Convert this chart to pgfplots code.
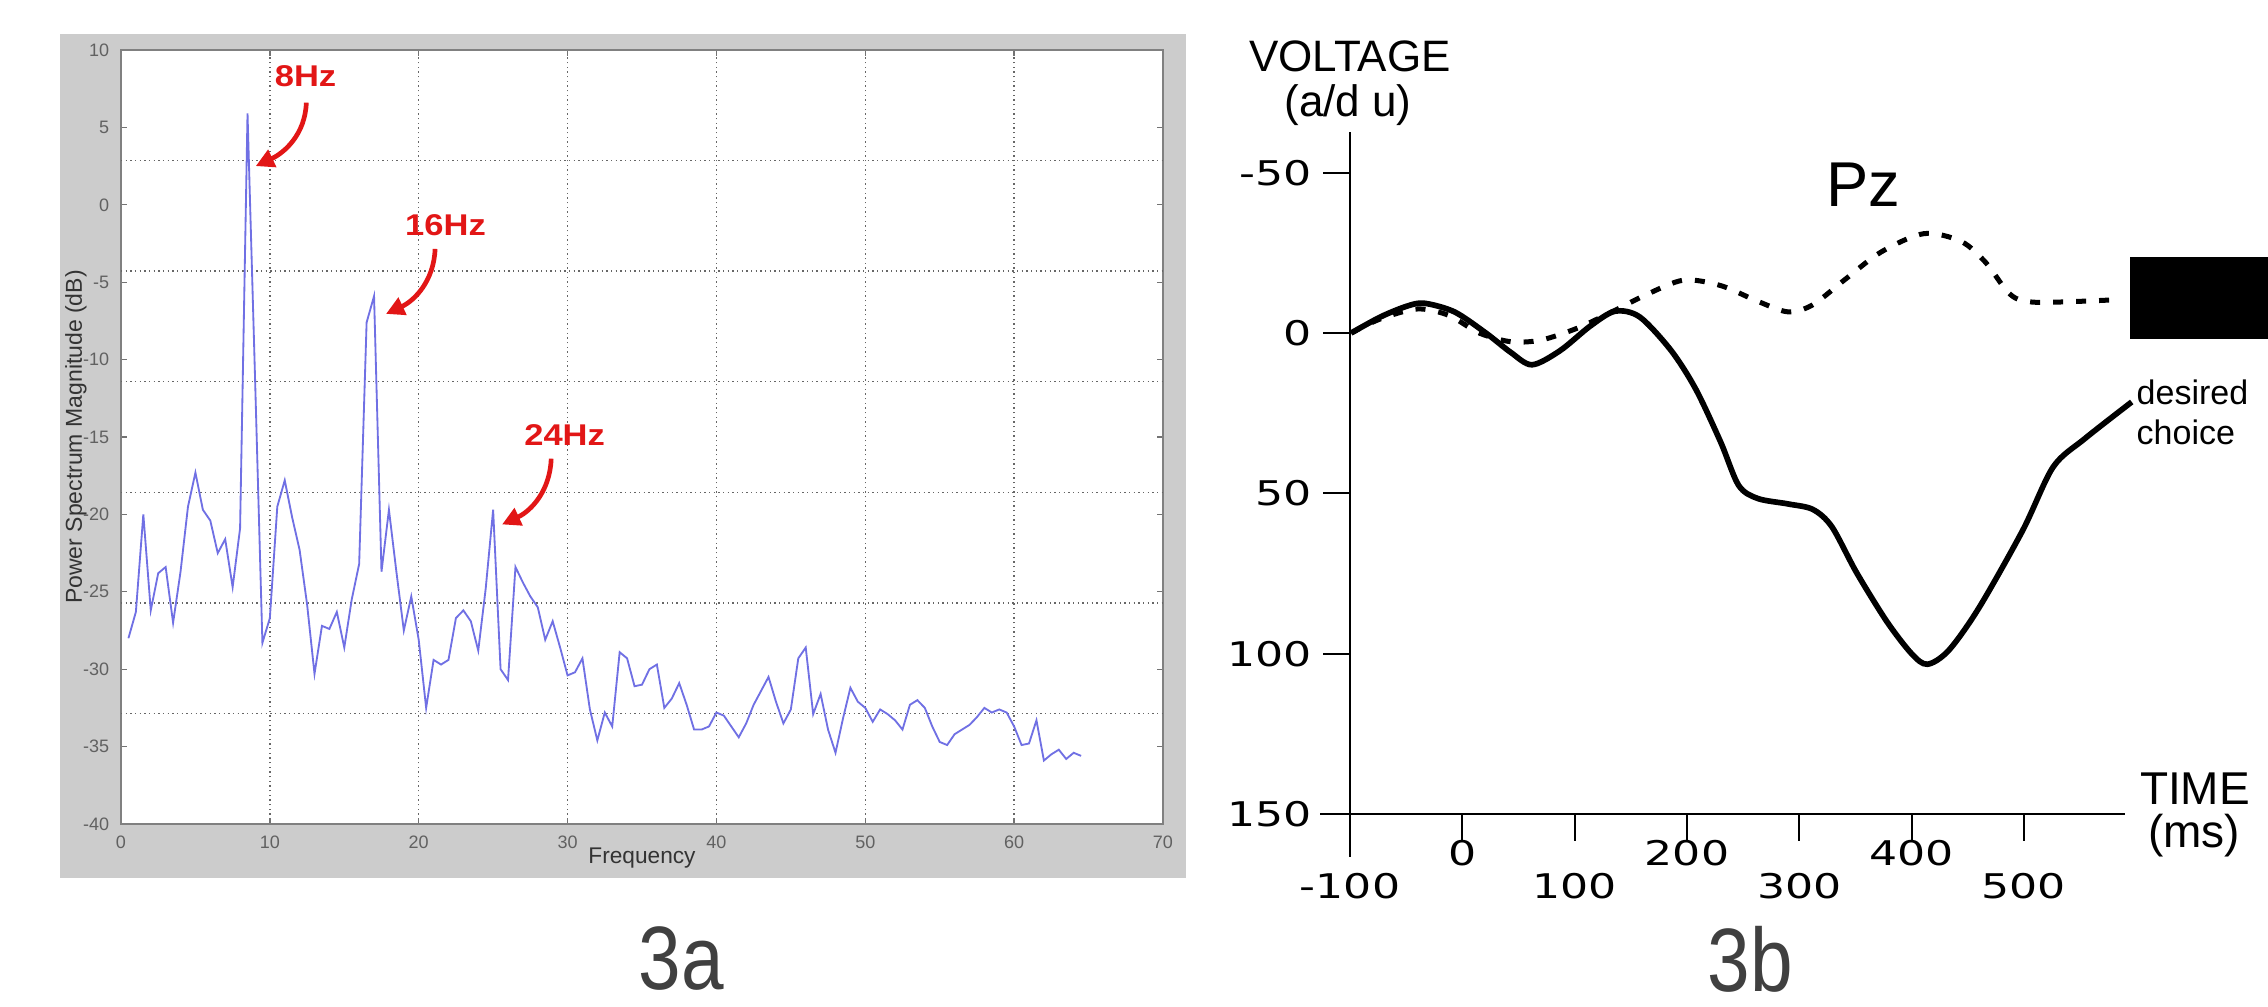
\documentclass[border=0pt]{standalone}
\usepackage{fontspec}
\usepackage{graphicx}
\usepackage{pgfplots}
\pgfplotsset{compat=1.18}
\usetikzlibrary{arrows.meta}
\setmainfont{Liberation Sans}
\newfontfamily\ls{Liberation Sans}
\newfontfamily\dv{DejaVu Sans}
\definecolor{panel}{RGB}{204,204,204}
\definecolor{spec}{RGB}{112,112,228}
\definecolor{annot}{RGB}{226,22,22}
\definecolor{capgrey}{RGB}{64,64,64}
\newcommand\W[1]{\scalebox{1.3}[1]{#1}}
\newcommand\Lo[1]{\rule{0pt}{17.3pt}\W{#1}}
\newcommand\RH[1]{\scalebox{1.15}[1]{#1}}

\pgfplotstableread{
f p
0.5 -28.0
1.0 -26.3
1.5 -20.0
2.0 -26.2
2.5 -23.8
3.0 -23.4
3.5 -27.0
4.0 -23.7
4.5 -19.5
5.0 -17.3
5.5 -19.7
6.0 -20.4
6.5 -22.5
7.0 -21.6
7.5 -24.7
8.0 -20.9
8.5 5.9
9.0 -11.0
9.5 -28.3
10.0 -26.7
10.5 -19.5
11.0 -17.8
11.5 -20.2
12.0 -22.3
12.5 -25.8
13.0 -30.3
13.5 -27.2
14.0 -27.4
14.5 -26.3
15.0 -28.6
15.5 -25.5
16.0 -23.2
16.5 -7.6
17.0 -5.9
17.5 -23.7
18.0 -19.7
18.5 -23.7
19.0 -27.5
19.5 -25.3
20.0 -28.1
20.5 -32.5
21.0 -29.4
21.5 -29.7
22.0 -29.4
22.5 -26.7
23.0 -26.2
23.5 -26.9
24.0 -28.8
24.5 -24.8
25.0 -19.7
25.5 -30.0
26.0 -30.7
26.5 -23.4
27.0 -24.4
27.5 -25.3
28.0 -26.0
28.5 -28.1
29.0 -26.9
29.5 -28.6
30.0 -30.4
30.5 -30.2
31.0 -29.3
31.5 -32.6
32.0 -34.6
32.5 -32.8
33.0 -33.7
33.5 -28.9
34.0 -29.3
34.5 -31.1
35.0 -31.0
35.5 -30.0
36.0 -29.7
36.5 -32.5
37.0 -31.9
37.5 -30.9
38.0 -32.3
38.5 -33.9
39.0 -33.9
39.5 -33.7
40.0 -32.8
40.5 -33.0
41.0 -33.7
41.5 -34.4
42.0 -33.5
42.5 -32.3
43.0 -31.4
43.5 -30.5
44.0 -32.1
44.5 -33.5
45.0 -32.6
45.5 -29.3
46.0 -28.6
46.5 -32.9
47.0 -31.6
47.5 -33.9
48.0 -35.4
48.5 -33.2
49.0 -31.2
49.5 -32.1
50.0 -32.5
50.5 -33.4
51.0 -32.6
51.5 -32.9
52.0 -33.3
52.5 -33.9
53.0 -32.3
53.5 -32.0
54.0 -32.5
54.5 -33.7
55.0 -34.7
55.5 -34.9
56.0 -34.2
56.5 -33.9
57.0 -33.6
57.5 -33.1
58.0 -32.5
58.5 -32.8
59.0 -32.6
59.5 -32.8
60.0 -33.7
60.5 -34.9
61.0 -34.8
61.5 -33.3
62.0 -35.9
62.5 -35.5
63.0 -35.2
63.5 -35.8
64.0 -35.4
64.5 -35.6
}\spectrum

\pgfplotstableread{
t v
-99 0
-73 -5
-50 -8.3
-34 -9.3
-7 -6.6
21 0
43 6
62 9.9
87 5.5
114 -2.2
136 -6.8
158 -5
186 5.5
208 17.6
230 34
246 47.5
263 51.6
290 53.3
312 55
329 60.4
351 74.7
378 90
400 100
414 103.3
433 99
460 85.7
499 61.5
526 41.8
554 33
596 21.5
}\desired

\pgfplotstableread{
t v
-99 0
-73 -4.4
-40 -7.5
-12 -5.5
15 0
43 2.7
70 2.2
103 -1.6
136 -7.1
164 -12
197 -16.5
230 -14.8
263 -9.9
290 -6.6
312 -8.8
340 -16.5
373 -25.3
411 -31
444 -28.6
466 -22
488 -12
510 -9.6
577 -10.3
}\other

\begin{document}
\begin{tikzpicture}[x=0.3pt,y=0.3pt]
\fill[white] (0,0) rectangle (2268,1007);
\useasboundingbox (0,0) rectangle (2268,1007);
\fill[panel] (60,129) rectangle (1186,973);

% ---------------- 3a ----------------
\begin{axis}[
  at={(36.3pt,54.9pt)}, anchor=south west,
  scale only axis, width=312.6pt, height=232.2pt,
  xmin=0, xmax=70, ymin=-40, ymax=10,
  xtick={0,10,...,70},
  xticklabels={0,10,20,30,40,50,60,70},
  ytick={-40,-35,...,10},
  yticklabels={-40,-35,-30,-25,-20,-15,-10,-5,0,5,10},
  tick align=inside, major tick length=1.8pt,
  tick style={black!55, line width=0.4pt},
  axis line style={black!50, line width=0.7pt},
  axis background/.style={fill=white},
  xmajorgrids,
  grid style={densely dotted, black!60, line width=0.45pt},
  extra y ticks={2.857,-4.286,-11.429,-18.571,-25.714,-32.857},
  extra y tick labels={},
  extra y tick style={ymajorgrids=true, major tick length=0pt},
  ticklabel style={font=\ls\fontsize{5.4}{6}\selectfont, text=black!62},
  xlabel={Frequency},
  ylabel={Power Spectrum Magnitude (dB)},
  xlabel style={at={(axis description cs:0.5,-0.044)}, anchor=center, font=\ls\fontsize{6.8}{7}\selectfont, text=black!80},
  ylabel style={at={(axis description cs:-0.0432,0.5)}, anchor=center, font=\ls\fontsize{6.9}{7}\selectfont, text=black!80},
  clip=false,
]
\addplot[spec, line width=0.55pt] table[x=f, y=p] {\spectrum};
\node[annot, font=\ls\bfseries\fontsize{9}{9}\selectfont] at (axis cs:12.4,8.3) {\RH{8Hz}};
\node[annot, font=\ls\bfseries\fontsize{9}{9}\selectfont] at (axis cs:21.8,-1.3) {\RH{16Hz}};
\node[annot, font=\ls\bfseries\fontsize{9}{9}\selectfont] at (axis cs:29.8,-14.9) {\RH{24Hz}};
\draw[annot, line width=1.4pt, -{Triangle[length=5.5pt,width=5.5pt]}] (axis cs:12.45,6.6) to[out=-92,in=25] (axis cs:9.05,2.5);
\draw[annot, line width=1.4pt, -{Triangle[length=5.5pt,width=5.5pt]}] (axis cs:21.1,-2.85) to[out=-92,in=25] (axis cs:17.8,-7.05);
\draw[annot, line width=1.4pt, -{Triangle[length=5.5pt,width=5.5pt]}] (axis cs:28.9,-16.4) to[out=-92,in=25] (axis cs:25.6,-20.65);
\end{axis}

% ---------------- 3b ----------------
\begin{axis}[
  at={(405pt,57.9pt)}, anchor=south west,
  scale only axis, width=232.5pt, height=204.6pt,
  xmin=-100, xmax=590, ymin=-150, ymax=62.7,
  y filter/.expression={-y},
  axis x line*=bottom, axis y line*=left,
  axis line style={black, line width=0.6pt},
  tick align=outside, major tick length=8pt,
  tick style={black, line width=0.6pt},
  xtick={-100,0,100,200,300,400,500},
  xticklabels={\Lo{-100},\W{0},\Lo{100},\W{200},\Lo{300},\W{400},\Lo{500}},
  ytick={-150,-100,-50,0,50},
  yticklabels={\W{150},\W{100},\W{50},\W{0},\W{-50}},
  ticklabel style={font=\dv\fontsize{10.2}{10.2}\selectfont, text=black},
  xticklabel style={yshift=3.6pt},
  clip=false,
]
\addplot[black, line width=1.7pt, smooth] table[x=t, y=v] {\desired};
\addplot[black, line width=1.5pt, smooth, line cap=butt, dash pattern=on 3pt off 3.9pt] table[x=t, y=v] {\other};
\end{axis}
\draw[black, line width=0.6pt] (1350,193) -- (1350,150);
\draw[black, line width=0.6pt] (1320,193) -- (1350,193);
\fill[black] (2130,668) rectangle (2268,750);

\node[font=\ls\fontsize{13.2}{14}\selectfont, inner sep=0pt] at (1350,951) {VOLTAGE};
\node[font=\ls\fontsize{13.2}{14}\selectfont, inner sep=0pt] at (1348,902) {(a/d u)};
\node[font=\ls\fontsize{19}{19}\selectfont] at (1863,822) {Pz};
\node[font=\ls\fontsize{13.8}{14}\selectfont] at (2195,218) {TIME};
\node[font=\ls\fontsize{13.8}{14}\selectfont] at (2194,171) {(ms)};
\node[font=\ls\fontsize{10.2}{10.2}\selectfont, anchor=west, inner sep=0pt] at (2136,615) {desired};
\node[font=\ls\fontsize{10.2}{10.2}\selectfont, anchor=west, inner sep=0pt] at (2136,575) {choice};

\node[font=\ls\fontsize{27}{27}\selectfont, text=capgrey, inner sep=0pt] at (681,48) {\scalebox{0.85}[1]{3a}};
\node[font=\ls\fontsize{27}{27}\selectfont, text=capgrey, inner sep=0pt] at (1750,48) {\scalebox{0.85}[1]{3b}};
\end{tikzpicture}
\end{document}
